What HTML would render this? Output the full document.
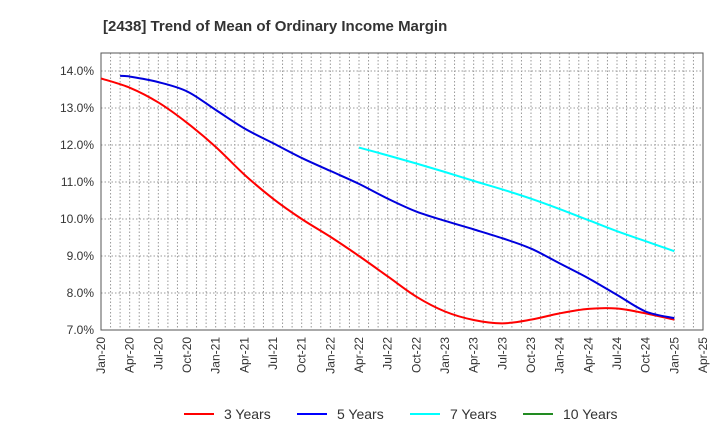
<!DOCTYPE html>
<html><head><meta charset="utf-8"><style>
body{margin:0;background:#fff;font-family:"Liberation Sans",sans-serif}
</style></head><body>
<svg id="c" width="720" height="440" xmlns="http://www.w3.org/2000/svg">
<text x="103" y="31" font-size="15" font-weight="bold" fill="#333">[2438]  Trend of Mean of Ordinary Income Margin</text>
</svg>
<script>
const xLabels=["Jan-20","Apr-20","Jul-20","Oct-20","Jan-21","Apr-21","Jul-21","Oct-21","Jan-22","Apr-22","Jul-22","Oct-22","Jan-23","Apr-23","Jul-23","Oct-23","Jan-24","Apr-24","Jul-24","Oct-24","Jan-25","Apr-25"];
const yTicks=[7,8,9,10,11,12,13,14];
// month index (0 = Jan-20)
const red3=[13.8,13.55,13.15,12.6,11.95,11.2,10.55,10.0,9.52,9.0,8.45,7.9,7.5,7.27,7.18,7.28,7.45,7.57,7.58,7.45,7.28];
const red3Start=0;
const blue5=[13.87,13.85,13.7,13.45,12.95,12.45,12.05,11.65,11.3,10.95,10.55,10.2,9.95,9.72,9.48,9.2,8.8,8.4,7.95,7.5,7.32];
const blue5Months=[2,3,6,9,12,15,18,21,24,27,30,33,36,39,42,45,48,51,54,57,60];
const cyan7=[11.93,11.72,11.5,11.27,11.03,10.8,10.55,10.27,9.97,9.67,9.4,9.13];
const cyan7Start=27;
const green10=[];
const NS="http://www.w3.org/2000/svg";
const svg=document.getElementById('c');
const L=101,R=703,T=53,B=330;
const X=m=>L+m*(R-L)/63;
const Y=v=>B-(v-7)*(B-71)/7;
function el(t,a,p){const e=document.createElementNS(NS,t);for(const k in a)e.setAttribute(k,a[k]);(p||svg).appendChild(e);return e;}
const bg=el('rect',{x:L,y:T,width:R-L,height:B-T,fill:'#fff'});


for(let m=1;m<63;m++){const g=el('line',{x1:X(m),x2:X(m),y1:T,y2:B,stroke:'#999','stroke-dasharray':'1.5,2','stroke-width':1});

}
for(let v=8;v<=14;v+=1){const g=el('line',{x1:L,x2:R,y1:Y(v),y2:Y(v),stroke:'#999','stroke-dasharray':'1.5,2','stroke-width':1});

}
const fr=el('rect',{x:L,y:T,width:R-L,height:B-T,fill:'none',stroke:'#555','stroke-width':1});


yTicks.forEach(v=>{const t=el('text',{x:L-7,y:Y(v)+4,'text-anchor':'end','font-size':12,fill:'#333'});t.textContent=v.toFixed(1)+'%';

});
xLabels.forEach((s,i)=>{const x=X(i*3);const t=el('text',{x:0,y:0,'text-anchor':'end','font-size':12,fill:'#333',transform:`translate(${x+4},337) rotate(-90)`});t.textContent=s;

});
function path(pts){let d=`M${pts[0][0]},${pts[0][1]}`;for(let i=0;i<pts.length-1;i++){const p0=pts[Math.max(0,i-1)],p1=pts[i],p2=pts[i+1],p3=pts[Math.min(pts.length-1,i+2)];
d+=` C${p1[0]+(p2[0]-p0[0])/6},${p1[1]+(p2[1]-p0[1])/6} ${p2[0]-(p3[0]-p1[0])/6},${p2[1]-(p3[1]-p1[1])/6} ${p2[0]},${p2[1]}`;}return d;}
function series(vals,months,color,name){if(!vals.length)return;const pts=vals.map((v,i)=>[X(months[i]),Y(v)]);
const p=el('path',{d:path(pts),fill:'none',stroke:color,'stroke-width':2});

}
series(red3,red3.map((_,i)=>red3Start+i*3),'#ff0000','series-3-years');
series(blue5,blue5Months,'#0000dd','series-5-years');
series(cyan7,cyan7.map((_,i)=>cyan7Start+i*3),'#00ffff','series-7-years');
series(green10,[],'#228b22','series-10-years');
[['3 Years','#ff0000',184],['5 Years','#0000ff',297],['7 Years','#00ffff',410],['10 Years','#228b22',523]].forEach(([s,c,x])=>{
const g=el('g',{});


el('line',{x1:x,x2:x+30,y1:414,y2:414,stroke:c,'stroke-width':2},g);
const t=el('text',{x:x+40,y:419,'font-size':14,fill:'#333'},g);t.textContent=s;});
</script>
</body></html>
